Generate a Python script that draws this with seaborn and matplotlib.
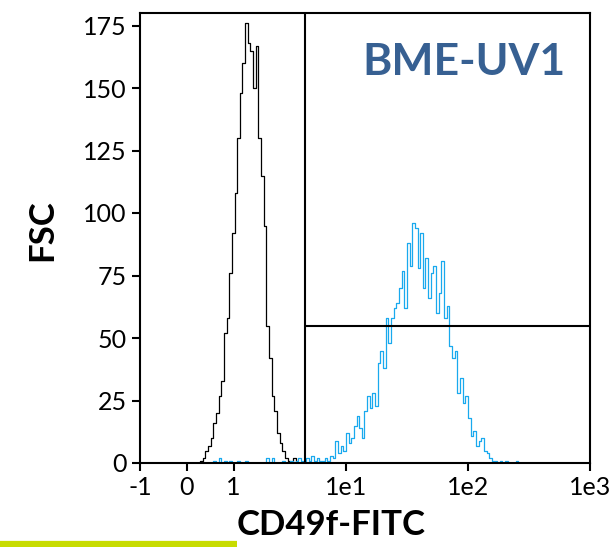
import numpy as np
import pandas as pd
import matplotlib
matplotlib.use("Agg")
import matplotlib.pyplot as plt
from matplotlib.lines import Line2D
import seaborn as sns

# histogram counts, one value per channel
# channels are spaced evenly on the asinh axis, starting at asinh(x) = 0.2
bin_start = 0.2
bin_step = 0.05

black_counts = [0, 1, 2, 5, 7, 10, 16, 20, 27, 33,
                52, 58, 76, 92, 108, 130, 148, 160, 176, 168,
                165, 150, 167, 130, 115, 95, 55, 42, 27, 21,
                12, 8, 5, 2, 1, 0, 2, 0]

blue_counts = [0, 0, 0, 0, 0, 0, 1, 0, 2, 0,
               1, 0, 1, 0, 0, 1, 0, 0, 1, 0,
               0, 0, 0, 0, 0, 0, 2, 0, 2, 0,
               0, 0, 1, 0, 0, 1, 0, 1, 2, 1,
               0, 2, 1, 3, 1, 2, 1, 1, 2, 1,
               3, 2, 9, 4, 7, 5, 12, 8, 10, 15,
               19, 14, 10, 21, 27, 22, 28, 23, 40, 45,
               38, 58, 48, 58, 62, 64, 70, 77, 62, 88,
               79, 96, 94, 78, 92, 70, 82, 66, 76, 79,
               60, 68, 81, 58, 63, 47, 42, 45, 28, 34,
               24, 27, 18, 11, 13, 7, 9, 10, 5, 4,
               2, 1, 1, 0, 1, 0, 1, 0, 0, 0,
               1, 0]

x_ticks = [-1, 0, 1, 10, 100, 1000]
x_ticklabels = ["-1", "0", "1", "1e1", "1e2", "1e3"]
y_ticks = [0, 25, 50, 75, 100, 125, 150, 175]

gate_x = 4.6
gate_y = 55
sample_name = "BME-UV1"


def step_frame(counts):
    n = len(counts)
    edges = np.sinh(bin_start + bin_step * np.arange(n + 1))
    return pd.DataFrame({"x": edges, "count": list(counts) + [counts[-1]]})


sns.set_theme(style="ticks")
plt.rcParams["font.family"] = ["Lato", "DejaVu Sans"]

fig = plt.figure(figsize=(6.10, 5.47), dpi=100)
ax = fig.add_axes([140 / 610, 84 / 547, 450 / 610, 450 / 547])

sns.lineplot(data=step_frame(black_counts), x="x", y="count", ax=ax,
             color="black", linewidth=0.9, drawstyle="steps-post",
             estimator=None, sort=False)
sns.lineplot(data=step_frame(blue_counts), x="x", y="count", ax=ax,
             color="#19a9ee", linewidth=0.9, drawstyle="steps-post",
             estimator=None, sort=False)

# gate lines
ax.axvline(gate_x, color="black", linewidth=1.5)
ax.plot([gate_x, 1000], [gate_y, gate_y], color="black", linewidth=1.5)

ax.set_xscale("asinh", linear_width=1)
ax.set_xlim(-1, 1000)
ax.set_ylim(0, 180)
ax.set_xticks(x_ticks)
ax.set_xticklabels(x_ticklabels)
ax.xaxis.set_minor_locator(matplotlib.ticker.NullLocator())
ax.set_yticks(y_ticks)
ax.set_xlabel("")
ax.set_ylabel("")
ax.tick_params(axis="both", labelsize=18, length=6, width=1.5,
               color="black", labelcolor="black")

for sp in ax.spines.values():
    sp.set_visible(True)
    sp.set_color("black")
    sp.set_linewidth(1.5)

ax.text(0.72, 0.892, sample_name, transform=ax.transAxes, ha="center",
        va="center", fontsize=32, fontweight="bold", color="#376092")

fig.text(331 / 610, 22 / 547, "CD49f-FITC", ha="center", va="center",
         fontsize=25, fontweight="bold", color="black")
fig.text(42 / 610, 317 / 547, "FSC", ha="center", va="center",
         rotation=90, fontsize=25, fontweight="bold", color="black")

# green bar at bottom left
fig.add_artist(Line2D([0, 237 / 610], [3 / 547, 3 / 547],
                      transform=fig.transFigure, color="#c8dc00",
                      linewidth=4.5, solid_capstyle="butt", zorder=0))

fig.savefig("out.png", dpi=100)
